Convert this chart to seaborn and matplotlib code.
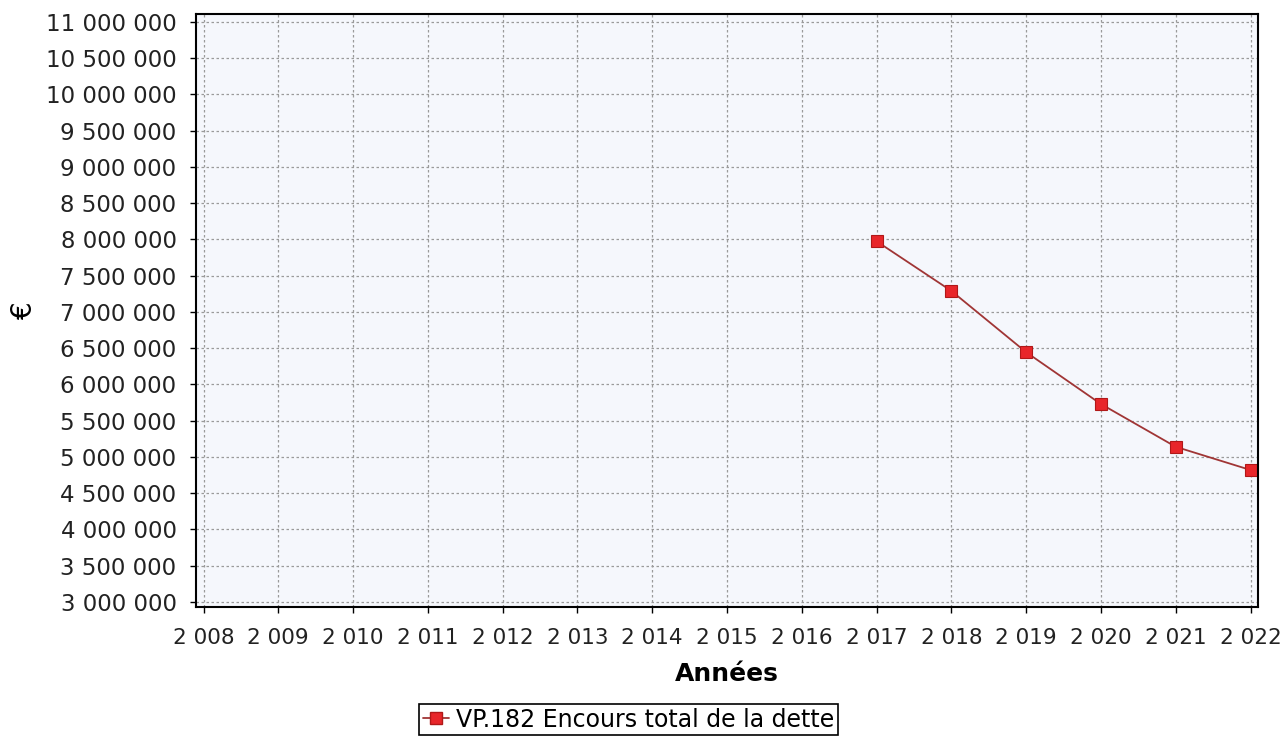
import pandas as pd
import numpy as np
import matplotlib.pyplot as plt
import seaborn as sns
from matplotlib.ticker import FuncFormatter, MultipleLocator

years = [2017, 2018, 2019, 2020, 2021, 2022]
encours = [7975000, 7290000, 6445000, 5730000, 5140000, 4820000]
serie = "VP.182 Encours total de la dette"

df = pd.DataFrame({"Années": years, "€": encours, "serie": serie})

sns.set_style("white")
plt.rcParams['font.family'] = ['DejaVu Sans']
plt.rcParams['text.color'] = 'black'
plt.rcParams['axes.labelcolor'] = 'black'
plt.rcParams['xtick.color'] = 'black'
plt.rcParams['ytick.color'] = 'black'

fig = plt.figure(figsize=(12.83, 7.38), dpi=100)
ax = fig.add_axes([0.1528, 0.1775, 0.8277, 0.8035])
ax.set_facecolor("#f5f7fc")

sns.lineplot(data=df, x="Années", y="€", hue="serie", palette=["#a03535"],
             marker="s", markersize=9, markerfacecolor="#e8262a",
             markeredgecolor="#b01818", markeredgewidth=0.8,
             linewidth=1.3, ax=ax, legend=False)

ax.set_xlim(2007.9, 2022.1)
ax.set_ylim(2930000, 11110000)
ax.xaxis.set_major_locator(MultipleLocator(1))
ax.yaxis.set_major_locator(MultipleLocator(500000))
fmt = FuncFormatter(lambda v, p: f"{v:,.0f}".replace(",", " "))
ax.xaxis.set_major_formatter(fmt)
ax.yaxis.set_major_formatter(fmt)

ax.grid(True, color="#9a9a9a", linestyle=(0, (2, 2)), linewidth=0.9)
for s in ax.spines.values():
    s.set_color("black")
    s.set_linewidth(1.5)

ax.tick_params(axis="both", direction="out", length=4, width=1,
               left=True, bottom=True)
ax.tick_params(axis="y", labelsize=16.5, labelcolor="#222222", pad=10)
ax.tick_params(axis="x", labelsize=15.5, labelcolor="#222222", pad=11)

ax.set_xlabel("Années", fontsize=18, fontweight="bold", labelpad=10)
ax.set_ylabel("€", fontsize=20, labelpad=6)

handle = plt.Line2D([], [], color="#a03535", marker="s", markersize=8,
                    markerfacecolor="#e8262a", markeredgecolor="#b01818", linewidth=1.3)
leg = fig.legend([handle], [serie], loc="center", bbox_to_anchor=(0.49, 0.025),
                 fontsize=17, frameon=True, fancybox=False, framealpha=1,
                 handlelength=1.1, handletextpad=0.3, borderpad=0.15,
                 borderaxespad=0)
leg.get_frame().set_edgecolor("black")
leg.get_frame().set_linewidth(1.2)

fig.savefig("out.png", dpi=100)
